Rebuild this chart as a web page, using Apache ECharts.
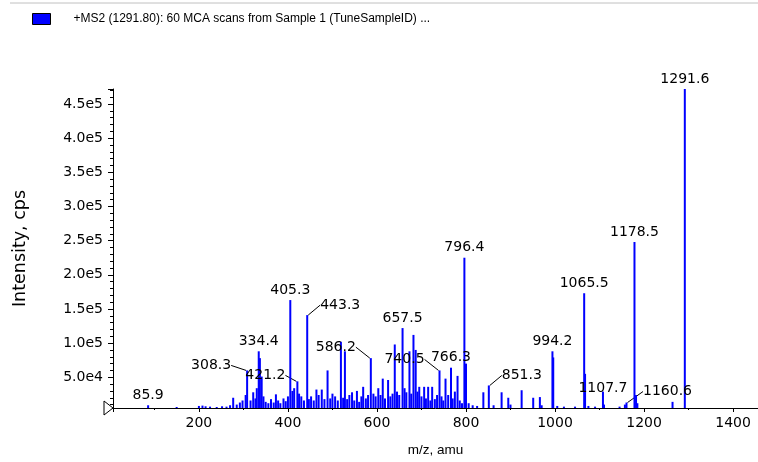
<!DOCTYPE html>
<html>
<head>
<meta charset="utf-8">
<script src="https://cdn.jsdelivr.net/npm/echarts@6/dist/echarts.min.js"></script>
<style>html,body{margin:0;padding:0;background:#fff}#c{width:758px;height:462px}</style>
</head>
<body>
<div id="c"></div>
<script>
// ---- data ----
const seriesName = '+MS2 (1291.80): 60 MCA scans from Sample 1 (TuneSampleID) ...';
const xTitle = 'm/z, amu';
const yTitle = 'Intensity, cps';
const mzValues = [
  85.9, 150, 200, 208, 215, 225, 240, 252, 262, 270, 277, 285, 292, 298, 305,
  308.3, 316, 322, 327, 330, 334.4, 337, 341, 345, 350, 356, 362, 368, 373, 378,
  383, 390, 395, 400, 405.3, 410, 414, 421.2, 425, 430, 436, 443.3, 447, 452, 458,
  464, 469, 476, 482, 489, 495, 500, 506, 512, 519, 524, 528, 533, 538, 544,
  549, 555, 560, 565, 569, 575, 580, 586.2, 592, 597, 603, 608, 613, 618, 625,
  630, 635, 640, 645, 650, 657.5, 662, 666, 673, 677, 682, 687, 691, 695, 700,
  706, 710, 715, 720, 724, 730, 735, 740.5, 745, 749, 754, 760, 766.3, 770, 775,
  781, 786, 791, 796.4, 800, 806, 815, 825, 839, 851.3, 862, 880, 895, 900,
  925, 951, 966, 970, 994.2, 996, 1005, 1020, 1045, 1065.5, 1067.5, 1075, 1090, 1107.7,
  1110, 1145, 1157, 1160.6, 1178.5, 1182, 1185, 1264, 1291.6
];
const intensities = [
  9000, 6500, 8000, 8500, 7500, 7000, 6500, 7500, 7000, 9000, 20000, 10000, 13000, 16000, 24000,
  60000, 16000, 28000, 19000, 34000, 88000, 78000, 51000, 22000, 14000, 12000, 18000, 13000, 25000, 16000,
  12000, 19000, 15000, 22000, 163000, 30000, 34000, 44000, 26000, 22000, 16000, 141000, 18000, 22000, 16000,
  32000, 24000, 32000, 18000, 60000, 19000, 26000, 22000, 16000, 102000, 20000, 88000, 18000, 24000, 28000,
  16000, 30000, 14000, 22000, 36000, 19000, 24000, 78000, 26000, 22000, 34000, 24000, 48000, 19000, 46000,
  22000, 26000, 98000, 29000, 24000, 122000, 34000, 28000, 88000, 26000, 112000, 90000, 29000, 36000, 22000,
  36000, 19000, 36000, 16000, 36000, 18000, 24000, 60000, 22000, 16000, 48000, 24000, 64000, 19000, 29000,
  52000, 16000, 12000, 225000, 70000, 12000, 9000, 8000, 28000, 38000, 9000, 28000, 20000, 10000,
  31000, 20000, 21000, 9000, 88000, 79000, 8000, 7000, 7000, 173000, 55000, 8000, 7000, 29000,
  10000, 7000, 10000, 13000, 248000, 24000, 12000, 14000, 472000
];
const labelledPeaks = [85.9, 308.3, 334.4, 405.3, 421.2, 443.3, 586.2, 657.5, 740.5, 766.3, 796.4, 851.3, 994.2, 1065.5, 1107.7, 1160.6, 1178.5, 1291.6];
const xMin = 7, xMax = 1456;
const yMin = 5000, yMax = 472000;

// ---- styling for moved labels (pixel offsets, not data) ----
const labelShift = {
  '308.3': [-36, 5], '421.2': [-32, 4], '443.3': [33, 0], '586.2': [-35, -1],
  '740.5': [-35, -1], '851.3': [33, 0], '1107.7': [0, 7], '1160.6': [41, -1]
};

const FONT = 'DejaVu Sans';
const data = mzValues.map((m, i) => {
  const item = { value: [m, intensities[i]] };
  if (labelledPeaks.includes(m)) {
    const key = m.toFixed(1);
    item.label = { show: true };
    if (labelShift[key]) item.labelLine = { show: true };
  }
  return item;
});

const chart = echarts.init(document.getElementById('c'), null, { renderer: 'canvas' });
const option = {
  animation: false,
  backgroundColor: '#fff',
  legend: {
    left: 27, top: 8,
    itemWidth: 18, itemHeight: 11,
    icon: 'rect',
    data: [seriesName],
    textStyle: { fontFamily: 'Liberation Sans', fontSize: 12, color: '#000', padding: [0, 0, 0, 18] },
    itemStyle: { borderColor: '#000', borderWidth: 1 }
  },
  grid: { left: 113, right: 0, top: 89, bottom: 48.5, containLabel: false },
  xAxis: {
    type: 'value', min: xMin, max: xMax, splitNumber: 7,
    name: xTitle, nameLocation: 'middle', nameGap: 35,
    nameTextStyle: { fontFamily: 'Liberation Sans', fontSize: 13.5, color: '#000' },
    axisLine: { lineStyle: { color: '#000', width: 1 } },
    axisTick: { show: true, length: 4, lineStyle: { color: '#000' } },
    minorTick: { show: true, splitNumber: 2, length: 2, lineStyle: { color: '#000' } },
    splitLine: { show: false },
    axisLabel: { fontFamily: FONT, fontSize: 14, color: '#000', margin: 8, showMinLabel: false, showMaxLabel: false,
      formatter: v => String(v) }
  },
  yAxis: {
    type: 'value', min: yMin, max: yMax, splitNumber: 9,
    name: yTitle, nameLocation: 'middle', nameGap: 84,
    nameTextStyle: { fontFamily: FONT, fontSize: 17.5, color: '#000' },
    axisLine: { show: true, lineStyle: { color: '#000', width: 1 } },
    axisTick: { show: true, length: 5, lineStyle: { color: '#000' } },
    minorTick: { show: true, splitNumber: 5, length: 3, lineStyle: { color: '#000' } },
    splitLine: { show: false },
    axisLabel: {
      fontFamily: FONT, fontSize: 14, color: '#000', margin: 10,
      showMinLabel: false, showMaxLabel: false,
      formatter: v => v.toExponential(1).replace('e+', 'e')
    }
  },
  series: [{
    name: seriesName,
    type: 'bar',
    barWidth: 2,
    itemStyle: { color: '#0000ff' },
    label: {
      show: false, position: 'top', distance: 3,
      fontFamily: FONT, fontSize: 14, color: '#000',
      formatter: p => p.value[0].toFixed(1)
    },
    labelLine: { show: false, lineStyle: { color: '#000', width: 1 } },
    labelLayout: p => {
      const m = mzValues[p.dataIndex];
      const s = labelShift[m.toFixed(1)];
      return s ? { dx: s[0], dy: s[1] } : {};
    },
    data: data
  }]
};
chart.setOption(option);

// decorations: top rule and origin triangle
const o = chart.convertToPixel({ gridIndex: 0 }, [xMin, yMin]);
chart.setOption({
  graphic: [
    { type: 'line', shape: { x1: 10, y1: 3, x2: 758, y2: 3 }, style: { stroke: '#c0c0c0', lineWidth: 1 }, silent: true },
    { type: 'polygon', shape: { points: [[o[0] - 9, o[1] - 7], [o[0] - 9, o[1] + 7], [o[0], o[1]]] },
      style: { fill: '#fff', stroke: '#000', lineWidth: 1 }, z: 100, silent: true }
  ]
});
</script>
</body>
</html>
